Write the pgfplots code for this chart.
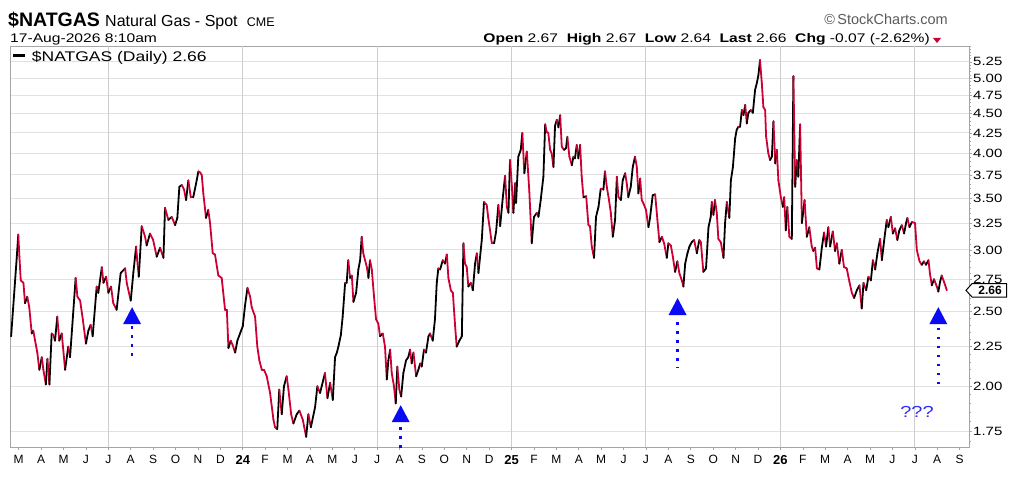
\documentclass[border=0pt]{standalone}
\usepackage{pgfplots}
\usepackage{pgfplotstable}
\pgfplotsset{compat=1.18}
\usepackage{fontspec}
\setmainfont{Liberation Sans}
\newfontfamily\sfw[FakeStretch=1.25]{Liberation Sans}
\definecolor{ncred}{RGB}{204,0,51}
\definecolor{arrblue}{RGB}{10,10,245}
\definecolor{gridh}{RGB}{225,225,225}
\definecolor{gridv}{RGB}{205,205,205}
\definecolor{framec}{RGB}{165,165,165}

\pgfplotstableread{
m v
-10.34 2.32
-10.09 2.93
-10.02 3.14
-9.97 2.94
-9.91 2.74
-9.79 2.72
-9.72 2.56
-9.62 2.61
-9.53 2.53
-9.42 2.34
-9.35 2.36
-9.27 2.29
-9.17 2.21
-9.08 2.10
-8.97 2.18
-8.90 2.10
-8.79 2.01
-8.72 2.17
-8.63 2.01
-8.53 2.34
-8.46 2.33
-8.38 2.29
-8.28 2.46
-8.19 2.29
-8.08 2.34
-7.93 2.10
-7.79 2.25
-7.71 2.18
-7.53 2.58
-7.46 2.76
-7.38 2.61
-7.26 2.58
-7.14 2.44
-7.00 2.27
-6.89 2.36
-6.79 2.40
-6.70 2.32
-6.52 2.69
-6.45 2.64
-6.29 2.85
-6.22 2.72
-6.10 2.77
-6.00 2.64
-5.88 2.69
-5.78 2.56
-5.63 2.51
-5.45 2.80
-5.25 2.84
-5.18 2.72
-5.00 2.58
-4.88 2.81
-4.76 3.03
-4.71 2.91
-4.64 2.77
-4.51 3.22
-4.36 3.12
-4.29 3.04
-4.14 3.15
-4.00 3.09
-3.84 2.94
-3.69 3.02
-3.54 2.93
-3.47 3.40
-3.32 3.28
-3.17 3.31
-3.02 3.23
-2.92 3.30
-2.83 3.62
-2.72 3.64
-2.62 3.59
-2.53 3.48
-2.43 3.69
-2.32 3.51
-2.21 3.51
-2.08 3.66
-1.98 3.79
-1.91 3.78
-1.83 3.75
-1.76 3.55
-1.64 3.30
-1.54 3.38
-1.46 3.25
-1.34 2.97
-1.24 2.96
-1.09 2.78
-0.94 2.76
-0.79 2.51
-0.71 2.51
-0.64 2.24
-0.54 2.29
-0.45 2.26
-0.34 2.21
-0.24 2.29
-0.12 2.34
0.00 2.39
0.10 2.54
0.21 2.68
0.33 2.61
0.40 2.53
0.55 2.46
0.65 2.25
0.74 2.16
0.85 2.10
0.95 2.10
1.07 2.06
1.22 1.96
1.37 1.81
1.44 1.77
1.54 1.76
1.63 1.98
1.74 1.84
1.84 2.00
1.96 2.06
2.04 1.98
2.16 1.84
2.26 1.79
2.41 1.84
2.53 1.86
2.68 1.81
2.83 1.72
2.93 1.84
3.04 1.77
3.23 1.88
3.33 2.00
3.45 1.96
3.60 2.04
3.67 2.08
3.78 1.93
3.90 2.02
4.02 1.92
4.12 2.18
4.20 2.21
4.27 2.25
4.38 2.33
4.46 2.46
4.57 2.72
4.64 2.72
4.71 2.91
4.79 2.76
4.87 2.78
4.94 2.57
5.06 2.64
5.16 2.83
5.24 2.91
5.31 3.12
5.38 2.97
5.54 2.85
5.61 2.76
5.68 2.91
5.76 2.83
5.86 2.61
5.95 2.44
6.05 2.41
6.13 2.32
6.25 2.34
6.35 2.25
6.43 2.04
6.50 2.16
6.58 2.23
6.65 2.08
6.75 2.00
6.83 1.90
6.90 2.12
6.99 1.98
7.07 1.94
7.17 2.08
7.29 2.16
7.39 2.18
7.47 2.23
7.54 2.14
7.62 2.21
7.74 2.06
7.84 2.10
7.92 2.14
7.99 2.12
8.09 2.23
8.18 2.21
8.29 2.32
8.36 2.34
8.48 2.29
8.58 2.44
8.66 2.72
8.73 2.84
8.81 2.83
8.93 2.91
9.03 2.88
9.11 2.96
9.18 2.76
9.29 2.66
9.38 2.64
9.48 2.39
9.55 2.25
9.67 2.29
9.78 2.32
9.85 3.06
9.92 2.88
10.00 2.85
10.07 2.69
10.18 2.72
10.27 2.66
10.37 2.88
10.45 2.97
10.52 2.80
10.67 3.09
10.77 3.46
10.89 3.43
10.96 3.30
11.12 3.06
11.22 3.06
11.31 3.17
11.41 3.43
11.49 3.22
11.61 3.51
11.71 3.74
11.79 3.41
11.86 3.35
11.93 3.92
12.01 3.64
12.08 3.35
12.16 3.66
12.20 3.45
12.30 3.96
12.41 4.04
12.48 4.25
12.57 3.77
12.68 4.02
12.79 3.58
12.90 3.06
13.00 3.31
13.13 3.35
13.20 3.31
13.30 3.48
13.42 3.73
13.50 4.36
13.57 4.26
13.64 4.25
13.72 4.04
13.79 4.00
13.87 3.84
13.94 4.34
14.02 4.42
14.09 4.32
14.17 4.48
14.24 4.08
14.34 4.04
14.43 4.06
14.49 4.20
14.58 3.96
14.69 3.86
14.76 3.96
14.83 3.94
14.91 4.10
14.98 3.94
15.06 4.10
15.13 3.73
15.21 3.51
15.33 3.52
15.43 3.23
15.50 3.22
15.58 3.03
15.68 2.93
15.77 3.31
15.88 3.41
15.98 3.60
16.10 3.59
16.17 3.79
16.25 3.62
16.35 3.48
16.43 3.35
16.52 3.12
16.62 3.28
16.70 3.73
16.77 3.51
16.88 3.48
16.96 3.69
17.07 3.77
17.14 3.66
17.21 3.51
17.32 3.62
17.41 3.84
17.51 3.96
17.59 3.84
17.66 3.55
17.74 3.71
17.81 3.48
17.88 3.45
18.00 3.38
18.11 3.21
18.18 3.30
18.30 3.53
18.41 3.54
18.51 3.28
18.60 3.07
18.71 3.12
18.81 3.06
18.93 2.93
19.00 3.06
19.11 3.04
19.20 2.94
19.30 2.81
19.40 2.90
19.49 2.80
19.60 2.74
19.67 2.69
19.75 2.88
19.85 2.97
19.94 3.03
20.04 3.07
20.15 3.09
20.27 2.97
20.38 3.09
20.45 3.07
20.56 2.81
20.68 2.84
20.79 3.21
20.89 3.31
20.94 3.46
21.01 3.33
21.08 3.48
21.16 3.35
21.23 3.10
21.34 3.07
21.46 2.93
21.53 3.25
21.61 3.46
21.72 3.30
21.79 3.69
21.88 3.84
21.98 4.18
22.05 4.29
22.13 4.33
22.20 4.33
22.28 4.55
22.35 4.48
22.43 4.62
22.50 4.37
22.57 4.51
22.68 4.55
22.77 4.51
22.87 4.83
22.95 4.93
23.02 5.05
23.09 5.28
23.17 4.93
23.24 4.59
23.32 4.55
23.36 4.21
23.46 4.00
23.54 3.92
23.62 3.96
23.69 4.40
23.77 3.88
23.84 4.04
23.91 3.69
24.02 3.51
24.11 3.41
24.17 3.51
24.24 3.18
24.31 3.41
24.40 3.12
24.51 3.10
24.58 5.03
24.66 3.62
24.73 3.92
24.80 3.73
24.88 4.36
24.96 3.25
25.08 3.48
25.18 3.12
25.29 3.21
25.40 3.03
25.47 2.99
25.55 3.02
25.63 2.84
25.74 2.83
25.85 3.02
25.95 3.16
26.04 3.03
26.14 3.21
26.22 3.03
26.34 3.17
26.44 2.99
26.52 3.06
26.63 2.88
26.74 3.00
26.84 2.85
26.96 2.84
27.08 2.73
27.19 2.64
27.29 2.60
27.41 2.66
27.53 2.70
27.63 2.52
27.71 2.72
27.83 2.66
27.93 2.77
28.04 2.74
28.13 2.91
28.23 2.83
28.33 2.97
28.45 3.10
28.53 2.91
28.60 3.03
28.67 3.15
28.75 3.28
28.82 3.21
28.93 3.31
29.02 3.15
29.12 3.20
29.22 3.09
29.31 3.18
29.42 3.23
29.52 3.15
29.61 3.25
29.67 3.30
29.76 3.21
29.87 3.26
30.01 3.25
30.09 3.00
30.21 2.90
30.31 2.87
30.41 2.90
30.50 2.87
30.61 2.91
30.68 2.79
30.76 2.70
30.86 2.75
30.98 2.69
31.05 2.65
31.13 2.73
31.20 2.78
31.30 2.73
31.43 2.66
}\gas

\pgfplotstablecreatecol[create col/assign/.code={%
  \getthisrow{v}\cur
  \getnextrow{v}\nxt
  \ifx\nxt\empty\def\res{0}\else
    \pgfmathparse{\nxt>\cur?1:0}\let\res\pgfmathresult
  \fi
  \pgfkeyslet{/pgfplots/table/create col/next content}\res
}]{up}\gas

\newcommand\yr[1]{{\bfseries\fontsize{13bp}{13bp}\selectfont #1}}
\newcommand\arrowat[1]{% tip coordinate name
  \fill[arrblue] (#1) -- ++(-9,-17) -- ++(18,0) -- cycle;
}

\begin{document}
\begin{tikzpicture}[x=1bp,y=1bp]
\useasboundingbox (0,0) rectangle (1024,480);
\begin{axis}[
  at={(10bp,33bp)}, anchor=south west,
  scale only axis, width=959bp, height=401bp,
  ymode=log,
  xmin=-10.39, xmax=32.42, ymin=1.669, ymax=5.504,
  axis line style={draw=framec, line width=0.8bp},
  ytick={1.75,2,2.25,2.5,2.75,3,3.25,3.5,3.75,4,4.25,4.5,4.75,5,5.25},
  yticklabels={1.75,2.00,2.25,2.50,2.75,3.00,3.25,3.50,3.75,4.00,4.25,4.50,4.75,5.00,5.25},
  minor ytick={1.70,1.80,1.85,1.90,1.95,2.05,2.10,2.15,2.20,2.30,2.35,2.40,2.45,2.55,2.60,2.65,2.70,2.80,2.85,2.90,2.95,3.05,3.10,3.15,3.20,3.30,3.35,3.40,3.45,3.55,3.60,3.65,3.70,3.80,3.85,3.90,3.95,4.05,4.10,4.15,4.20,4.30,4.35,4.40,4.45,4.55,4.60,4.65,4.70,4.80,4.85,4.90,4.95,5.05,5.10,5.15,5.20,5.30,5.35,5.40,5.45,5.50},
  ytick pos=right, yticklabel pos=right,
  ymajorgrids, major grid style={draw=gridh, line width=1bp},
  xtick={-10,-9,...,32},
  xticklabels={M,A,M,J,J,A,S,O,N,D,\yr{24},F,M,A,M,J,J,A,S,O,N,D,\yr{25},F,M,A,M,J,J,A,S,O,N,D,\yr{26},F,M,A,M,J,J,A,S},
  xtick pos=bottom,
  tick align=outside,
  major tick length=3bp, minor tick length=2bp,
  tick style={draw=framec, line width=0.6bp},
  extra x ticks={-6,0,6,12,18,24,30}, extra x tick labels={},
  extra x tick style={grid=major, major grid style={draw=gridv, line width=1bp}},
  yticklabel style={font=\sfw\fontsize{12bp}{12bp}\selectfont, anchor=west, inner sep=0pt, xshift=1bp},
  xticklabel style={font=\fontsize{12bp}{12bp}\selectfont, anchor=north, inner sep=0pt, yshift=-5bp},
  colormap={updown}{color=(ncred) color=(black)},
  point meta min=0, point meta max=1,
  clip=false,
]
\addplot[mesh, shader=flat corner, point meta=\thisrow{up}, line width=1.8bp, line cap=round, line join=round]
  table[x=m, y=v]{\gas};

\draw[arrblue, line width=2.6bp, dash pattern=on 2.6bp off 6.4bp] (axis cs:-4.94,2.39) -- (axis cs:-4.94,2.15);
\draw[arrblue, line width=2.6bp, dash pattern=on 2.6bp off 6.4bp] (axis cs:7.05,1.77) -- (axis cs:7.05,1.64);
\draw[arrblue, line width=2.6bp, dash pattern=on 2.6bp off 6.4bp] (axis cs:19.41,2.42) -- (axis cs:19.41,2.11);
\draw[arrblue, line width=2.6bp, dash pattern=on 2.6bp off 6.4bp] (axis cs:31.05,2.38) -- (axis cs:31.05,2.01);
\coordinate (a1) at (axis cs:-4.94,2.53);
\coordinate (a2) at (axis cs:7.05,1.89);
\coordinate (a3) at (axis cs:19.41,2.60);
\coordinate (a4) at (axis cs:31.05,2.53);
\coordinate (tag) at (axis cs:32.42,2.66);

\node[text=arrblue!85!white, font=\sfw\fontsize{16bp}{16bp}\selectfont] at (axis cs:30.10,1.853) {???};
\end{axis}

\arrowat{a1}
\arrowat{a2}
\arrowat{a3}
\arrowat{a4}
\draw[black, line width=1bp, fill=white] (tag) ++(-3,0) -- ++(6,6.7) -- ++(34.7,0) -- ++(0,-13.4) -- ++(-34.7,0) -- cycle;
\node[font=\bfseries\fontsize{12bp}{12bp}\selectfont, inner sep=0pt] at ([xshift=21bp]tag) {2.66};

% header
\node[anchor=base west, inner sep=0pt, font=\bfseries\fontsize{19.5bp}{19.5bp}\selectfont] at (8,453.3) {\$NATGAS};
\node[anchor=base west, inner sep=0pt, font=\fontsize{16bp}{16bp}\selectfont] at (105,453.3) {Natural Gas - Spot};
\node[anchor=base west, inner sep=0pt, font=\fontsize{12.5bp}{12.5bp}\selectfont] at (246.7,453.3) {CME};
\node[anchor=base west, inner sep=0pt, font=\sfw\fontsize{12.5bp}{12.5bp}\selectfont] at (10,437) {17-Aug-2026 8:10am};
\node[anchor=base east, inner sep=0pt, text=black!65, font=\fontsize{14.5bp}{14.5bp}\selectfont] at (948,455) {\textcopyright\,StockCharts.com};
\node[anchor=base east, inner sep=0pt, font=\sfw\fontsize{12.5bp}{12.5bp}\selectfont] at (930,437) {\textbf{Open} 2.67\ \ \textbf{High} 2.67\ \ \textbf{Low} 2.64\ \ \textbf{Last} 2.66\ \ \textbf{Chg} -0.07 (-2.62\%)};
\fill[ncred] (933,442) -- (941,442) -- (937,437) -- cycle;

% legend
\draw[black, line width=3bp] (13,424.5) -- (25,424.5);
\node[anchor=base west, inner sep=0pt, font=\sfw\fontsize{14bp}{14bp}\selectfont] at (31.7,418.3) {\$NATGAS (Daily) 2.66};
\end{tikzpicture}
\end{document}
